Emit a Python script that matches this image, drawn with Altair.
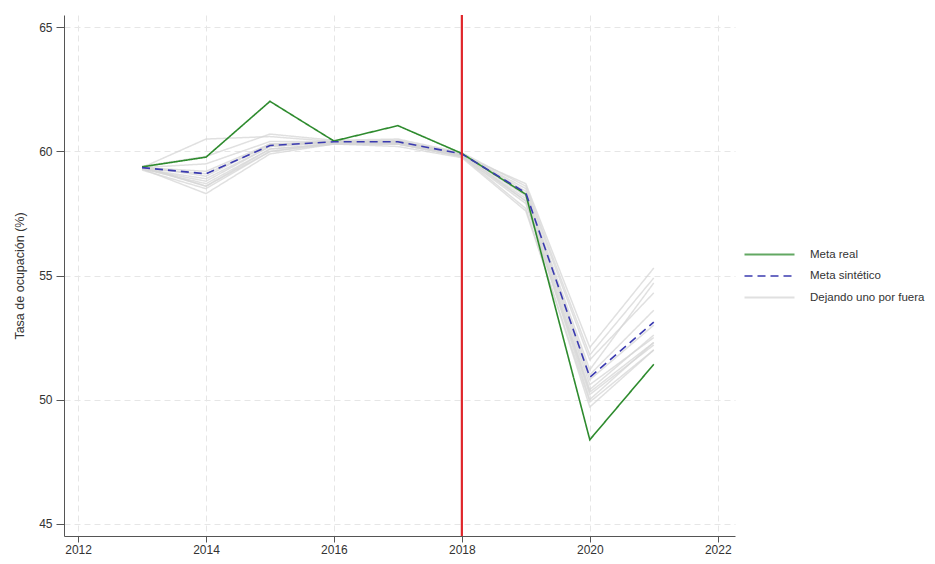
import altair as alt
import pandas as pd

years = [2013, 2014, 2015, 2016, 2017, 2018, 2019, 2020, 2021]

meta_real = [59.38, 59.77, 62.02, 60.42, 61.04, 59.92, 58.27, 48.38, 51.42]
meta_sintetico = [59.35, 59.10, 60.24, 60.39, 60.39, 59.90, 58.33, 50.90, 53.12]

# leave-one-out placebo runs ("Dejando uno por fuera")
loo_runs = [
    [59.35, 60.50, 60.60, 60.40, 60.30, 59.85, 58.70, 52.10, 55.30],
    [59.30, 58.30, 59.90, 60.30, 60.30, 59.80, 57.70, 49.70, 52.00],
    [59.40, 58.60, 60.00, 60.35, 60.40, 59.90, 58.00, 50.30, 52.30],
    [59.30, 58.80, 60.20, 60.40, 60.40, 59.90, 58.20, 50.60, 52.50],
    [59.35, 59.50, 60.40, 60.40, 60.45, 59.90, 58.40, 51.20, 54.70],
    [59.40, 59.00, 60.30, 60.35, 60.35, 59.85, 58.30, 51.00, 53.60],
    [59.30, 58.70, 60.10, 60.30, 60.30, 59.80, 57.90, 50.20, 52.20],
    [59.35, 59.20, 60.30, 60.40, 60.40, 59.90, 58.50, 51.60, 54.30],
    [59.25, 58.50, 60.00, 60.30, 60.20, 59.75, 57.60, 49.90, 52.00],
    [59.40, 59.80, 60.70, 60.45, 60.50, 59.95, 58.60, 51.80, 54.90],
    [59.30, 58.90, 60.20, 60.35, 60.35, 59.85, 58.10, 50.40, 52.60],
    [59.35, 58.60, 60.10, 60.30, 60.30, 59.80, 58.00, 50.00, 52.30],
    [59.30, 59.10, 60.25, 60.40, 60.40, 59.90, 58.30, 50.80, 53.00],
]

treatment_year = [2018]
x_ticks = [2012, 2014, 2016, 2018, 2020, 2022]
y_ticks = [45, 50, 55, 60, 65]

labels = ["Meta real", "Meta sintético", "Dejando uno por fuera"]
colors = ["#2e8b2e", "#3a3ab0", "#d6d6d6"]
dashes = [[1, 0], [8, 5], [1, 0]]

rows = []
for i, run in enumerate(loo_runs):
    for y, v in zip(years, run):
        rows.append({"year": y, "value": v, "serie": labels[2], "id": f"loo{i}"})
gray_df = pd.DataFrame(rows)

main_rows = []
for y, v in zip(years, meta_real):
    main_rows.append({"year": y, "value": v, "serie": labels[0], "id": "real"})
for y, v in zip(years, meta_sintetico):
    main_rows.append({"year": y, "value": v, "serie": labels[1], "id": "sint"})
main_df = pd.DataFrame(main_rows)

rule_df = pd.DataFrame({"year": treatment_year})

font = "Liberation Sans"

x_enc = alt.X(
    "year:Q",
    scale=alt.Scale(domain=[2011.78, 2022.27], nice=False, zero=False),
    axis=alt.Axis(values=x_ticks, format="d", title=None, grid=True,
                  gridDash=[6, 4], gridColor="#e6e6e6", tickSize=6,
                  domainColor="#555555", tickColor="#555555",
                  labelColor="#333333", labelFontSize=12, labelFont=font,
                  labelPadding=2),
)
y_enc = alt.Y(
    "value:Q",
    scale=alt.Scale(domain=[44.5, 65.5], nice=False, zero=False),
    axis=alt.Axis(values=y_ticks, title="Tasa de ocupación (%)", grid=True,
                  gridDash=[6, 4], gridColor="#e6e6e6", tickSize=8,
                  domainColor="#555555", tickColor="#555555",
                  labelColor="#333333", labelFontSize=12, labelFont=font,
                  titleFont=font, titleFontSize=12.5, titleFontWeight="normal",
                  titleColor="#333333", titlePadding=12, labelPadding=4),
)


def make_legend():
    return alt.Legend(
        title=None, orient="none", legendX=692, legendY=226,
        symbolType="M-2,0L2,0", symbolSize=625, symbolStrokeWidth=2,
        labelFont=font, labelFontSize=11.5, labelColor="#333333",
        labelOffset=27, rowPadding=2.5, labelLimit=200,
    )


color_enc = alt.Color(
    "serie:N",
    scale=alt.Scale(domain=labels, range=colors),
    legend=make_legend(),
)
dash_enc = alt.StrokeDash(
    "serie:N",
    scale=alt.Scale(domain=labels, range=dashes),
    legend=make_legend(),
)

gray_layer = alt.Chart(gray_df).mark_line(strokeWidth=1.5, opacity=0.75).encode(
    x=x_enc, y=y_enc, color=color_enc, strokeDash=dash_enc, detail="id:N"
)
main_layer = alt.Chart(main_df).mark_line(strokeWidth=1.6).encode(
    x=x_enc, y=y_enc, color=color_enc, strokeDash=dash_enc, detail="id:N"
)
rule_layer = alt.Chart(rule_df).mark_rule(color="#e0262b", strokeWidth=2.2).encode(
    x="year:Q"
)

chart = alt.layer(gray_layer, main_layer, rule_layer).properties(
    width=671, height=521,
    background="white",
    autosize=alt.AutoSizeParams(type="none"),
    padding={"left": 56, "top": 7, "right": 192, "bottom": 20},
).configure_view(stroke=None)

chart.save("out.html", embed_options={"renderer": "svg", "actions": False})
